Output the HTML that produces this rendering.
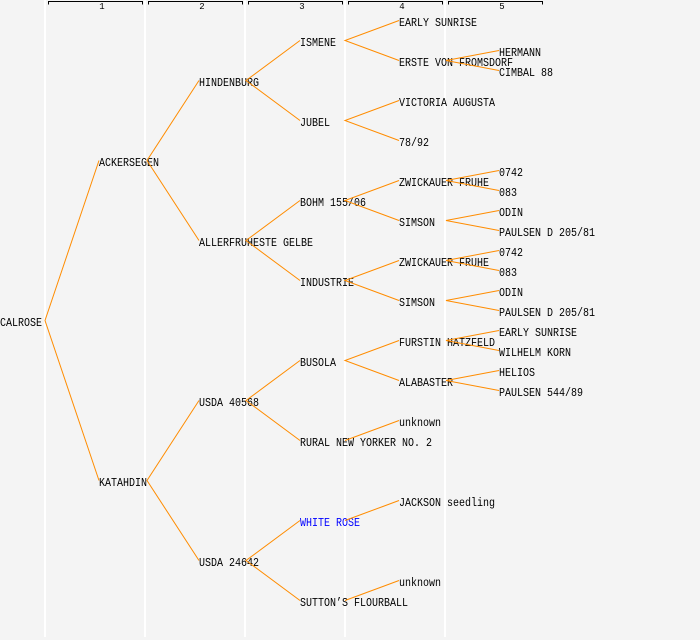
<!DOCTYPE html>
<html>
<head>
<meta charset="utf-8">
<style>
html,body{margin:0;padding:0;background:#f4f4f4;}
svg{display:block;}
.t{font-family:"Liberation Mono","DejaVu Sans Mono",monospace;font-size:12px;fill:#000;}
.h{font-family:"Liberation Mono","DejaVu Sans Mono",monospace;font-size:9px;fill:#000;}
</style>
</head>
<body>
<svg width="700" height="640" viewBox="0 0 700 640" xmlns="http://www.w3.org/2000/svg">
<rect x="0" y="0" width="700" height="640" fill="#f4f4f4"/>
<g fill="#ffffff">
<rect x="44" y="0" width="2" height="637"/>
<rect x="144" y="0" width="2" height="637"/>
<rect x="244" y="0" width="2" height="637"/>
<rect x="344" y="0" width="2" height="637"/>
<rect x="444" y="0" width="2" height="637"/>
</g>
<g fill="none" stroke="#000" stroke-width="1" shape-rendering="crispEdges">
<path d="M48.5 4.5V1.5H142.5V4.5"/>
<path d="M148.5 4.5V1.5H242.5V4.5"/>
<path d="M248.5 4.5V1.5H342.5V4.5"/>
<path d="M348.5 4.5V1.5H442.5V4.5"/>
<path d="M448.5 4.5V1.5H542.5V4.5"/>
</g>
<g class="h" text-anchor="middle">
<text x="102" y="9">1</text>
<text x="202" y="9">2</text>
<text x="302" y="9">3</text>
<text x="402" y="9">4</text>
<text x="502" y="9">5</text>
</g>

<g class="t">
<text x="0" y="326" textLength="42" lengthAdjust="spacingAndGlyphs">CALROSE</text>

<text x="99" y="166" textLength="60" lengthAdjust="spacingAndGlyphs">ACKERSEGEN</text>
<text x="99" y="486" textLength="48" lengthAdjust="spacingAndGlyphs">KATAHDIN</text>

<text x="199" y="86" textLength="60" lengthAdjust="spacingAndGlyphs">HINDENBURG</text>
<text x="199" y="246" textLength="114" lengthAdjust="spacingAndGlyphs">ALLERFRUHESTE GELBE</text>
<text x="199" y="406" textLength="60" lengthAdjust="spacingAndGlyphs">USDA 40568</text>
<text x="199" y="566" textLength="60" lengthAdjust="spacingAndGlyphs">USDA 24642</text>

<text x="300" y="46" textLength="36" lengthAdjust="spacingAndGlyphs">ISMENE</text>
<text x="300" y="126" textLength="30" lengthAdjust="spacingAndGlyphs">JUBEL</text>
<text x="300" y="206" textLength="66" lengthAdjust="spacingAndGlyphs">BOHM 155/06</text>
<text x="300" y="286" textLength="54" lengthAdjust="spacingAndGlyphs">INDUSTRIE</text>
<text x="300" y="366" textLength="36" lengthAdjust="spacingAndGlyphs">BUSOLA</text>
<text x="300" y="446" textLength="132" lengthAdjust="spacingAndGlyphs">RURAL NEW YORKER NO. 2</text>
<text x="300" y="526" textLength="60" lengthAdjust="spacingAndGlyphs" style="fill:#0000ff">WHITE ROSE</text>
<text x="300" y="606" textLength="108" lengthAdjust="spacingAndGlyphs">SUTTON’S FLOURBALL</text>

<text x="399" y="26" textLength="78" lengthAdjust="spacingAndGlyphs">EARLY SUNRISE</text>
<text x="399" y="66" textLength="114" lengthAdjust="spacingAndGlyphs">ERSTE VON FROMSDORF</text>
<text x="399" y="106" textLength="96" lengthAdjust="spacingAndGlyphs">VICTORIA AUGUSTA</text>
<text x="399" y="146" textLength="30" lengthAdjust="spacingAndGlyphs">78/92</text>
<text x="399" y="186" textLength="90" lengthAdjust="spacingAndGlyphs">ZWICKAUER FRUHE</text>
<text x="399" y="226" textLength="36" lengthAdjust="spacingAndGlyphs">SIMSON</text>
<text x="399" y="266" textLength="90" lengthAdjust="spacingAndGlyphs">ZWICKAUER FRUHE</text>
<text x="399" y="306" textLength="36" lengthAdjust="spacingAndGlyphs">SIMSON</text>
<text x="399" y="346" textLength="96" lengthAdjust="spacingAndGlyphs">FURSTIN HATZFELD</text>
<text x="399" y="386" textLength="54" lengthAdjust="spacingAndGlyphs">ALABASTER</text>
<text x="399" y="426" textLength="42" lengthAdjust="spacingAndGlyphs">unknown</text>
<text x="399" y="506" textLength="96" lengthAdjust="spacingAndGlyphs">JACKSON seedling</text>
<text x="399" y="586" textLength="42" lengthAdjust="spacingAndGlyphs">unknown</text>

<text x="499" y="56" textLength="42" lengthAdjust="spacingAndGlyphs">HERMANN</text>
<text x="499" y="76" textLength="54" lengthAdjust="spacingAndGlyphs">CIMBAL 88</text>
<text x="499" y="176" textLength="24" lengthAdjust="spacingAndGlyphs">0742</text>
<text x="499" y="196" textLength="18" lengthAdjust="spacingAndGlyphs">083</text>
<text x="499" y="216" textLength="24" lengthAdjust="spacingAndGlyphs">ODIN</text>
<text x="499" y="236" textLength="96" lengthAdjust="spacingAndGlyphs">PAULSEN D 205/81</text>
<text x="499" y="256" textLength="24" lengthAdjust="spacingAndGlyphs">0742</text>
<text x="499" y="276" textLength="18" lengthAdjust="spacingAndGlyphs">083</text>
<text x="499" y="296" textLength="24" lengthAdjust="spacingAndGlyphs">ODIN</text>
<text x="499" y="316" textLength="96" lengthAdjust="spacingAndGlyphs">PAULSEN D 205/81</text>
<text x="499" y="336" textLength="78" lengthAdjust="spacingAndGlyphs">EARLY SUNRISE</text>
<text x="499" y="356" textLength="72" lengthAdjust="spacingAndGlyphs">WILHELM KORN</text>
<text x="499" y="376" textLength="36" lengthAdjust="spacingAndGlyphs">HELIOS</text>
<text x="499" y="396" textLength="84" lengthAdjust="spacingAndGlyphs">PAULSEN 544/89</text>
</g>

<g fill="none" stroke="#ff8c00" stroke-width="1">
<path d="M99 160.5L45 320.5L99 480.5"/>
<path d="M199 80.5L147 160.5L199 240.5"/>
<path d="M199 400.5L147 480.5L199 560.5"/>
<path d="M300 40.5L246 80.5L300 120.5"/>
<path d="M300 200.5L246 240.5L300 280.5"/>
<path d="M300 360.5L246 400.5L300 440.5"/>
<path d="M300 520.5L246 560.5L300 600.5"/>
<path d="M399 20.5L345 40.5L399 60.5"/>
<path d="M399 100.5L345 120.5L399 140.5"/>
<path d="M399 180.5L345 200.5L399 220.5"/>
<path d="M399 260.5L345 280.5L399 300.5"/>
<path d="M399 340.5L345 360.5L399 380.5"/>
<path d="M345 440.5L399 420.5"/>
<path d="M345 520.5L399 500.5"/>
<path d="M345 600.5L399 580.5"/>
<path d="M499 50.5L446 60.5L499 70.5"/>
<path d="M499 170.5L446 180.5L499 190.5"/>
<path d="M499 210.5L446 220.5L499 230.5"/>
<path d="M499 250.5L446 260.5L499 270.5"/>
<path d="M499 290.5L446 300.5L499 310.5"/>
<path d="M499 330.5L446 340.5L499 350.5"/>
<path d="M499 370.5L446 380.5L499 390.5"/>
</g>
</svg>
</body>
</html>
